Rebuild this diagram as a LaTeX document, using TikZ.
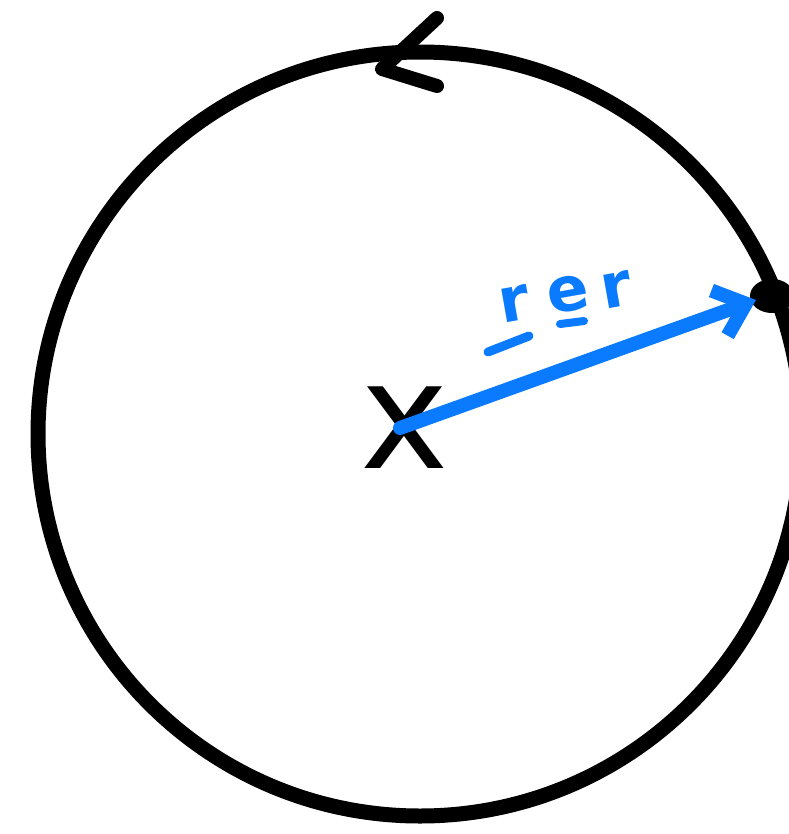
\documentclass[tikz,border=0pt]{standalone}
\usepackage{fontspec}
\setmainfont{DejaVu Sans}
\usetikzlibrary{arrows.meta}
\definecolor{penblue}{RGB}{10,122,255}
\tikzset{
	pen/.style={line width=14bp,line cap=round,line join=round},
	hand/.style={inner sep=0,font=\fontsize{#1}{#1}\selectfont},
	hand/.default=62,
	label/.style={inner sep=0,text=penblue,rotate=10,font=\fontsize{62}{62}\selectfont\bfseries}
}

\begin{document}
\begin{tikzpicture}[x=1bp,y=-1bp]
				\useasboundingbox (0,0) rectangle (789,834);
				\draw[pen,line width=15bp] (420,434) circle(382);
				% direction mark on the top of the circle
				\draw[pen] (437,18) -- (382,69) -- (437,86);
				\coordinate (O) at (400,428);
				\coordinate (tip) at (756,300);
				\node[hand=150] (pos) at (405,428) {x};
				\fill (772,296) ellipse (22 and 17);
				\draw[pen,penblue,-{Straight Barb[length=28bp,width=48bp]}] (O) -- (tip);
				\node[label] (r1) at (514,304) {r};
				\node[label] (e) at (568,294) {e};
				\node[label] (r2) at (616,290) {r};
				\draw[pen,penblue,line width=9bp] ([shift={(-26,48)}]r1.center) -- ([shift={(15,32)}]r1.center);
				\draw[pen,penblue,line width=8bp] ([shift={(-8,30)}]e.center) -- ([shift={(16,27)}]e.center);
\end{tikzpicture}
\end{document}
